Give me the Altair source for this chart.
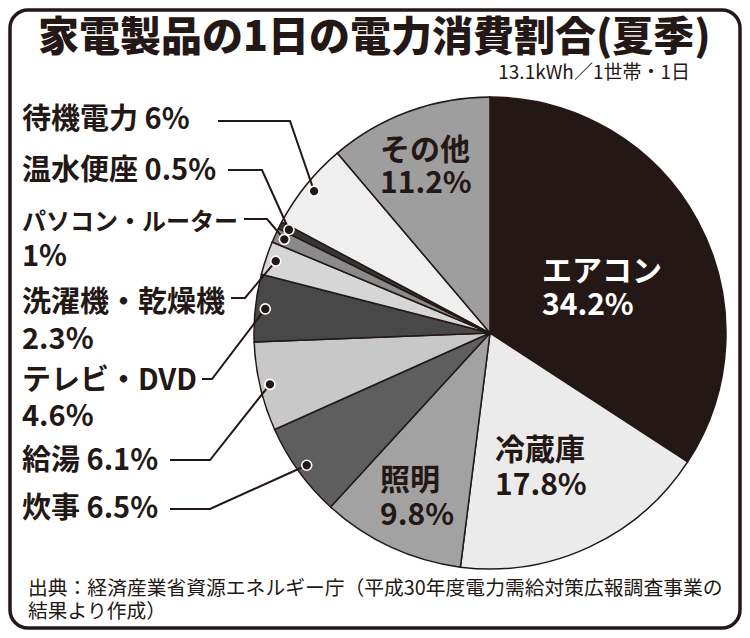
import math
import altair as alt
import pandas as pd

# ---------------- data ----------------
categories = ["エアコン", "冷蔵庫", "照明", "炊事", "給湯", "テレビ・DVD",
              "洗濯機・乾燥機", "パソコン・ルーター", "温水便座", "待機電力", "その他"]
shares = [34.2, 17.8, 9.8, 6.5, 6.1, 4.6, 2.3, 1.0, 0.5, 6.0, 11.2]
pct_text = ["34.2%", "17.8%", "9.8%", "6.5%", "6.1%", "4.6%", "2.3%", "1%", "0.5%", "6%", "11.2%"]

title_text = "家電製品の1日の電力消費割合(夏季)"
subtitle_text = "13.1kWh／1世帯・1日"
source_lines = ["出典：経済産業省資源エネルギー庁（平成30年度電力需給対策広報調査事業の",
                "結果より作成）"]

# ---------------- styles / layout ----------------
FONT = "Noto Sans CJK JP"
DARK = "#231815"
fills = ["#231815", "#ebebeb", "#a2a2a2", "#5e5e5e", "#c8c8c8", "#484848",
         "#d6d6d6", "#8a8a8a", "#363636", "#efefef", "#9e9e9e"]
W, H = 734, 622
CX, CY, R = 482, 325, 236
DOT_R = 226

# left labels: category -> (lines, font sizes, text x, baselines, line y, line start x, elbow x)
left_layout = {
    "待機電力":       (["待機電力 6%"], [29], 14, [121], 113, 210, 282),
    "温水便座":       (["温水便座 0.5%"], [29], 14, [172], 162, 220, 254),
    "パソコン・ルーター": (["パソコン・ルーター", "1%"], [24, 29], 14, [222, 258], 211, 236, 259),
    "洗濯機・乾燥機":   (["洗濯機・乾燥機", "2.3%"], [29, 29], 14, [304, 341], 290, 223, 237),
    "テレビ・DVD":     (["テレビ・DVD", "4.6%"], [29, 29], 14, [382, 418], 371, 194, 204),
    "給湯":          (["給湯 6.1%"], [29], 14, [462], 452, 162, 202),
    "炊事":          (["炊事 6.5%"], [29], 14, [510], 501, 162, 202),
}
# inside labels: category -> (x, baseline1, baseline2, color)
inside_layout = {
    "エアコン": (534, 273, 307, "white"),
    "冷蔵庫": (487, 452, 487, DARK),
    "照明": (372, 482, 517, DARK),
    "その他": (372, 152, 185, DARK),
}

# ---------------- derived tables ----------------
pie_df = pd.DataFrame({"cat": categories, "share": shares, "idx": list(range(len(categories)))})

total = sum(shares)
mid_angle = {}
acc = 0.0
for c, s in zip(categories, shares):
    mid_angle[c] = (acc + s / 2) / total * 2 * math.pi
    acc += s

line_rows, dot_rows = [], []
for c, (lines, fss, tx, bls, ly, sx, ex) in left_layout.items():
    a = mid_angle[c]
    dx = CX + DOT_R * math.sin(a)
    dy = CY - DOT_R * math.cos(a)
    line_rows += [(c, 0, sx, ly), (c, 1, ex, ly), (c, 2, dx, dy)]
    dot_rows.append((c, dx, dy))
lines_df = pd.DataFrame(line_rows, columns=["cat", "step", "px", "py"])
dots_df = pd.DataFrame(dot_rows, columns=["cat", "px", "py"])

XQ = dict(scale=None, axis=None)


def text_layer(rows, size, weight="bold", color=DARK, align="left"):
    df = pd.DataFrame(rows, columns=["t", "tx", "ty"])
    return alt.Chart(df).mark_text(
        font=FONT, fontSize=size, fontWeight=weight, color=color,
        align=align, baseline="alphabetic"
    ).encode(
        x=alt.X("tx:Q", **XQ),
        y=alt.Y("ty:Q", **XQ),
        text="t:N",
    )


# ---------------- layers ----------------
border = alt.Chart(pd.DataFrame({"k": [0]})).mark_rect(
    fillOpacity=0, stroke=DARK, strokeWidth=3.5, cornerRadius=18
).encode(x=alt.value(2), x2=alt.value(W - 2), y=alt.value(2), y2=alt.value(H - 2))

pie = alt.Chart(pie_df).mark_arc(
    outerRadius=R, stroke=DARK, strokeWidth=1.5
).encode(
    theta=alt.Theta("share:Q", stack=True),
    order=alt.Order("idx:Q"),
    color=alt.Color("cat:N", scale=alt.Scale(domain=categories, range=fills), legend=None),
    x=alt.value(CX),
    y=alt.value(CY),
)

leaders = alt.Chart(lines_df).mark_line(stroke=DARK, strokeWidth=2).encode(
    x=alt.X("px:Q", **XQ), y=alt.Y("py:Q", **XQ),
    detail="cat:N", order="step:Q",
)

dots = alt.Chart(dots_df).mark_circle(
    size=100, color=DARK, fill=DARK, stroke="white", strokeWidth=1.6, opacity=1
).encode(x=alt.X("px:Q", **XQ), y=alt.Y("py:Q", **XQ))

layers = [border, pie, leaders, dots]

# left labels
for c, (lines, fss, tx, bls, ly, sx, ex) in left_layout.items():
    for t, fs, b in zip(lines, fss, bls):
        layers.append(text_layer([(t, tx, b)], fs))

# inside labels
for c, (x, b1, b2, col) in inside_layout.items():
    i = categories.index(c)
    layers.append(text_layer([(c, x, b1), (pct_text[i], x, b2)], 30, color=col))

layers.append(text_layer([(title_text, 30, 43)], 41, weight=900))
layers.append(text_layer([(subtitle_text, 682, 71)], 19, weight="normal", align="right"))
layers.append(text_layer([(source_lines[0], 20, 587), (source_lines[1], 20, 610)], 19.8, weight="normal"))

chart = alt.layer(*layers).properties(
    width=W, height=H, autosize=alt.AutoSizeParams(type="none"), padding=0,
    background="white",
).configure_view(stroke=None)

chart.save("out.html", embed_options={"renderer": "svg", "actions": False})
